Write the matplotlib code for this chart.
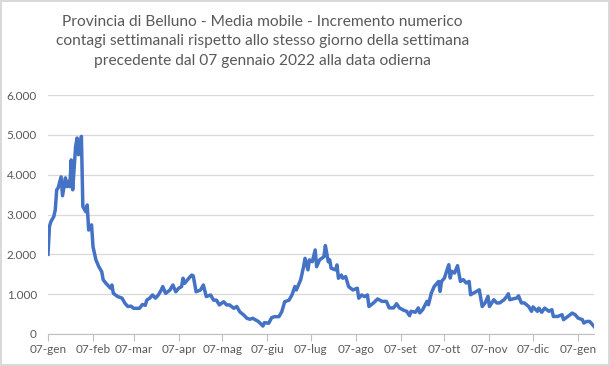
import matplotlib
matplotlib.use("Agg")
import matplotlib.pyplot as plt
import matplotlib.dates as mdates
from matplotlib.ticker import FuncFormatter, MultipleLocator
import numpy as np

# giorni dal 07/01/2022 e media mobile
giorni = [0, 1, 2, 4, 5, 6, 7, 9, 10, 12, 13, 14, 15, 16, 17, 19, 20, 21, 22, 23,
          24, 26, 27, 28, 30, 31, 33, 35, 37, 38, 40, 43, 44, 45, 48, 51, 53, 55, 57, 59,
          61, 63, 65, 67, 68, 70, 72, 74, 76, 78, 79, 81, 84, 86, 88, 90, 92, 93, 94, 97,
          99, 100, 102, 105, 107, 109, 112, 114, 116, 118, 121, 123, 125, 128, 130, 132, 135, 137, 139, 141,
          145, 148, 149, 152, 154, 156, 159, 161, 163, 166, 168, 170, 171, 174, 176, 177, 179, 180, 182, 184,
          185, 187, 190, 191, 193, 194, 195, 198, 199, 200, 202, 203, 205, 207, 210, 213, 214, 216, 218, 220,
          221, 224, 227, 230, 233, 235, 238, 240, 242, 245, 247, 249, 250, 253, 255, 256, 258, 261, 262, 264,
          266, 269, 270, 271, 273, 276, 277, 278, 280, 282, 284, 286, 288, 290, 291, 295, 297, 299, 301, 303,
          304, 307, 309, 311, 314, 316, 317, 318, 320, 323, 324, 326, 328, 331, 333, 334, 337, 338, 340, 342,
          345, 347, 348, 351, 354, 355, 358, 361, 363, 365, 368, 369, 371, 373, 375, 376]
valori = [2000, 2700, 2820, 2950, 3115, 3620, 3670, 3945, 3470, 3920, 3700, 3830, 3700, 4370, 3620, 4700, 4920, 4500, 4620, 4960,
          3200, 3070, 3240, 2610, 2740, 2190, 1860, 1690, 1565, 1360, 1270, 1150, 1230, 1020, 940, 900, 770, 690, 700, 645,
          645, 645, 740, 720, 850, 900, 980, 900, 980, 1105, 1190, 1020, 1105, 1230, 1060, 1150, 1190, 1400, 1270, 1400,
          1480, 1460, 1060, 1105, 1230, 940, 980, 850, 850, 730, 810, 730, 730, 645, 690, 560, 470, 395, 370, 395,
          310, 200, 285, 270, 410, 435, 435, 560, 810, 850, 980, 1190, 1105, 1360, 1690, 1900, 1610, 1860, 1815, 2110,
          1690, 1860, 1940, 2220, 1815, 1860, 1650, 1610, 1735, 1400, 1480, 1400, 1440, 1190, 1105, 1150, 900, 980, 940, 980,
          690, 775, 880, 820, 820, 655, 655, 760, 655, 595, 570, 460, 570, 545, 655, 530, 610, 820, 735, 1030,
          1195, 1320, 1070, 1320, 1405, 1740, 1405, 1575, 1530, 1715, 1320, 1365, 1280, 1320, 985, 1070, 1110, 690, 780, 945,
          690, 860, 780, 780, 860, 945, 1010, 860, 880, 905, 960, 780, 780, 690, 570, 680, 570, 650, 545, 650,
          570, 610, 440, 440, 485, 360, 440, 525, 485, 400, 360, 275, 315, 315, 230, 190]

mesi = ["gen", "feb", "mar", "apr", "mag", "giu", "lug", "ago", "set", "ott", "nov", "dic"]
titolo = ("Provincia di Belluno - Media mobile - Incremento numerico\n"
          "contagi settimanali rispetto allo stesso giorno della settimana\n"
          "precedente dal 07 gennaio 2022 alla data odierna")

date = np.datetime64("2022-01-07") + np.array(giorni).astype("timedelta64[D]")

plt.rcParams["font.family"] = ["Lato", "DejaVu Sans"]
grigio = "#595959"

fig = plt.figure(figsize=(6.1, 3.66), dpi=100)
fig.patch.set_edgecolor("#D9D9D9")
fig.patch.set_linewidth(1.5)
ax = fig.add_axes([48 / 610, 1 - 334 / 366, (594 - 48) / 610, (334 - 95) / 366])

ax.plot(date, valori, color="#4472C4", linewidth=2.5, solid_joinstyle="round")

ax.set_ylim(0, 6000)
ax.yaxis.set_major_locator(MultipleLocator(1000))
ax.yaxis.set_major_formatter(FuncFormatter(lambda v, p: f"{int(v):,}".replace(",", ".")))
ax.set_xlim(date[0], date[-1])
ax.xaxis.set_major_locator(mdates.MonthLocator(bymonthday=7))
ax.xaxis.set_major_formatter(FuncFormatter(
    lambda v, p: "07-" + mesi[mdates.num2date(v).month - 1]))

ax.grid(axis="y", color="#D9D9D9", linewidth=0.9)
ax.set_axisbelow(True)
for lato in ["top", "right", "left"]:
    ax.spines[lato].set_visible(False)
ax.spines["bottom"].set_color("#BFBFBF")
ax.tick_params(axis="y", length=0, colors=grigio, labelsize=8.5, pad=8)
ax.tick_params(axis="x", length=5, color="#BFBFBF", labelcolor=grigio, labelsize=8.5, pad=2)

fig.text(0.43, 0.96, titolo, ha="center", va="top", fontsize=11.2, color=grigio,
         linespacing=1.5)

fig.savefig("out.png", dpi=100)
